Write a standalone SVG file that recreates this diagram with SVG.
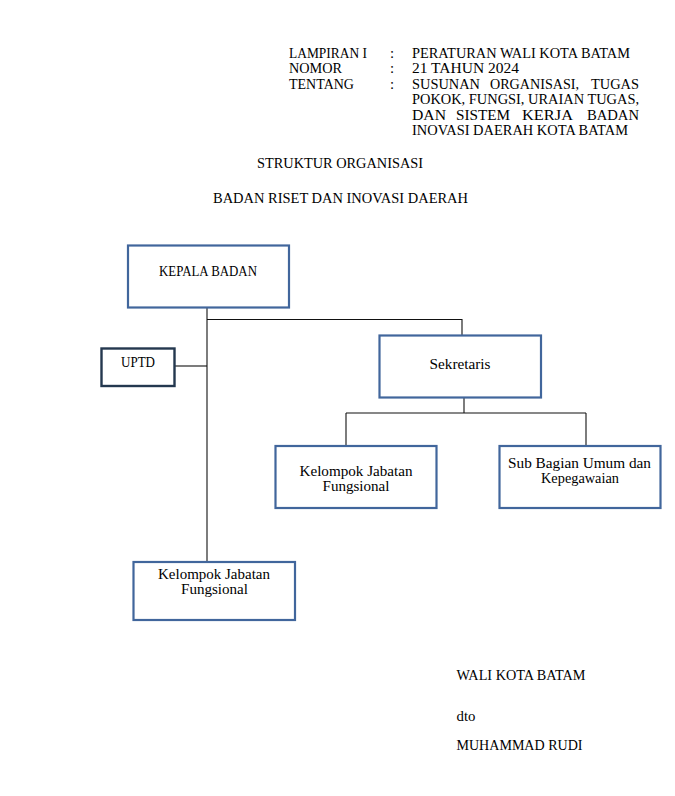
<svg xmlns="http://www.w3.org/2000/svg" width="675" height="796" viewBox="0 0 675 796">
<style>
text{font-family:"Liberation Serif","Times New Roman",serif;font-size:14.8px;fill:#000}
.box{fill:#fff;stroke:#41669c;stroke-width:2.2}
.dark{fill:#fff;stroke:#24384f;stroke-width:2.4}
.ln{fill:none;stroke:#111;stroke-width:1.1}
</style>
<rect width="675" height="796" fill="#fff"/>
<g id="header">
<text x="289" y="57.5" textLength="78" lengthAdjust="spacingAndGlyphs">LAMPIRAN I</text>
<text x="289" y="73" textLength="53" lengthAdjust="spacingAndGlyphs">NOMOR</text>
<text x="289" y="88.5" textLength="65" lengthAdjust="spacingAndGlyphs">TENTANG</text>
<text x="390" y="57.5">:</text>
<text x="390" y="73">:</text>
<text x="390" y="88.5">:</text>
<text x="412" y="57.5" textLength="218" lengthAdjust="spacingAndGlyphs">PERATURAN WALI KOTA BATAM</text>
<text x="412" y="73" textLength="107" lengthAdjust="spacingAndGlyphs">21 TAHUN 2024</text>
<text y="88.5"><tspan x="412" textLength="68" lengthAdjust="spacingAndGlyphs">SUSUNAN</tspan><tspan x="490" textLength="89" lengthAdjust="spacingAndGlyphs">ORGANISASI,</tspan><tspan x="591" textLength="48" lengthAdjust="spacingAndGlyphs">TUGAS</tspan></text>
<text x="412" y="104" textLength="227" lengthAdjust="spacingAndGlyphs">POKOK, FUNGSI, URAIAN TUGAS,</text>
<text y="119.5"><tspan x="412" textLength="34" lengthAdjust="spacingAndGlyphs">DAN</tspan><tspan x="456" textLength="54" lengthAdjust="spacingAndGlyphs">SISTEM</tspan><tspan x="522" textLength="51" lengthAdjust="spacingAndGlyphs">KERJA</tspan><tspan x="587" textLength="52" lengthAdjust="spacingAndGlyphs">BADAN</tspan></text>
<text x="412" y="135" textLength="216" lengthAdjust="spacingAndGlyphs">INOVASI DAERAH KOTA BATAM</text>
</g>
<g id="title">
<text x="257" y="168" textLength="166" lengthAdjust="spacingAndGlyphs">STRUKTUR ORGANISASI</text>
<text x="213" y="203" textLength="255" lengthAdjust="spacingAndGlyphs">BADAN RISET DAN INOVASI DAERAH</text>
</g>
<g id="connectors">
<path class="ln" d="M207 308V561"/>
<path class="ln" d="M207 319.5H462V335"/>
<path class="ln" d="M175 366H207"/>
<path class="ln" d="M464 398V413"/>
<path class="ln" d="M346 413H586"/>
<path class="ln" d="M346 413V445"/>
<path class="ln" d="M586 413V445"/>
</g>
<g id="kepala-badan">
<rect class="box" x="128" y="245.5" width="161" height="62"/>
<text x="159" y="276" textLength="98" lengthAdjust="spacingAndGlyphs">KEPALA BADAN</text>
</g>
<g id="uptd">
<rect class="dark" x="101.5" y="348.5" width="73" height="37.5"/>
<text x="121" y="367" textLength="34" lengthAdjust="spacingAndGlyphs">UPTD</text>
</g>
<g id="sekretaris">
<rect class="box" x="379.5" y="335.5" width="161.5" height="62"/>
<text x="429.5" y="368.5" textLength="61" lengthAdjust="spacingAndGlyphs">Sekretaris</text>
</g>
<g id="kelompok-jabatan-fungsional-sekretariat">
<rect class="box" x="275.5" y="446" width="161" height="62"/>
<text x="299.5" y="476" textLength="113" lengthAdjust="spacingAndGlyphs">Kelompok Jabatan</text>
<text x="322.5" y="490.5" textLength="67" lengthAdjust="spacingAndGlyphs">Fungsional</text>
</g>
<g id="sub-bagian-umum">
<rect class="box" x="499.5" y="446" width="161" height="62"/>
<text x="508" y="467.5" textLength="143" lengthAdjust="spacingAndGlyphs">Sub Bagian Umum dan</text>
<text x="541" y="483" textLength="78" lengthAdjust="spacingAndGlyphs">Kepegawaian</text>
</g>
<g id="kelompok-jabatan-fungsional">
<rect class="box" x="133.5" y="562" width="161.5" height="58"/>
<text x="158" y="578.5" textLength="112" lengthAdjust="spacingAndGlyphs">Kelompok Jabatan</text>
<text x="181" y="594" textLength="67" lengthAdjust="spacingAndGlyphs">Fungsional</text>
</g>
<g id="signature">
<text x="456.5" y="680" textLength="129" lengthAdjust="spacingAndGlyphs">WALI KOTA BATAM</text>
<text x="456.5" y="721">dto</text>
<text x="456.5" y="750" textLength="126" lengthAdjust="spacingAndGlyphs">MUHAMMAD RUDI</text>
</g>
</svg>
